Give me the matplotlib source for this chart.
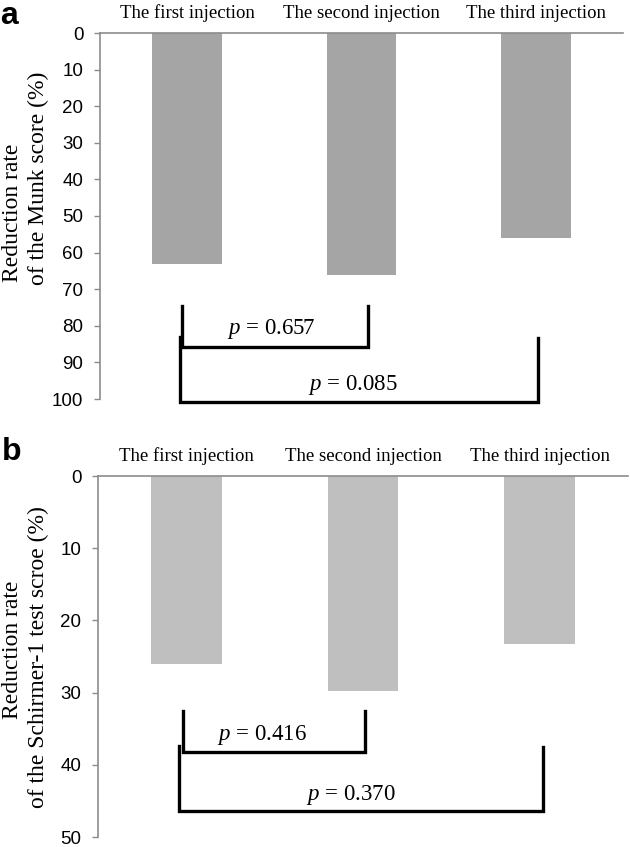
import matplotlib
matplotlib.use("Agg")
import matplotlib.pyplot as plt

plt.rcParams["mathtext.fontset"] = "custom"
plt.rcParams["mathtext.it"] = "Liberation Serif:italic"
plt.rcParams["mathtext.rm"] = "Liberation Serif"

categories = ["The first injection", "The second injection", "The third injection"]
munk_reduction = [63.0, 66.0, 56.0]
schirmer_reduction = [26.1, 29.8, 23.3]
munk_pvalues = ["0.657", "0.085"]
schirmer_pvalues = ["0.416", "0.370"]

SERIF = "Liberation Serif"
SANS = "Liberation Sans"
SPINE = "#8c8c8c"


def bracket(ax, x0, x1, top0, top1, bottom):
    ax.plot([x0, x0, x1, x1], [top0, bottom, bottom, top1], color="black",
            lw=2.4, solid_joinstyle="miter", clip_on=False, zorder=3)


def draw_panel(ax, values, color, ymax, yticks, brackets, pvalues, text_pos):
    x = range(len(categories))
    ax.bar(x, values, width=0.4, color=color, zorder=2)
    ax.set_xlim(-0.5, len(categories) - 0.5)
    ax.set_ylim(ymax, 0)
    ax.set_yticks(yticks)
    ax.set_xticks(list(x))
    ax.set_xticklabels(categories, family=SERIF, fontsize=13.5)
    ax.xaxis.tick_top()
    ax.tick_params(axis="x", length=0, pad=8)
    ax.tick_params(axis="y", length=4, width=1, color=SPINE, pad=8,
                   labelsize=13.5)
    for lab in ax.get_yticklabels():
        lab.set_family(SANS)
    for side in ["right", "bottom"]:
        ax.spines[side].set_visible(False)
    for side in ["left", "top"]:
        ax.spines[side].set_color(SPINE)
        ax.spines[side].set_linewidth(1.2)
    for (x0, x1, t0, t1, b), p, (tx, ty) in zip(brackets, pvalues, text_pos):
        bracket(ax, x0, x1, t0, t1, b)
        ax.text(tx, ty, f"$p$ = {p}", family=SERIF, fontsize=16.5,
                ha="center", va="center", zorder=4)


fig = plt.figure(figsize=(6.3, 8.47), dpi=100)

ax_a = fig.add_axes([100 / 630, 1 - 399 / 847, 523 / 630, 366 / 847])
draw_panel(ax_a, munk_reduction, "#a5a5a5", 100, range(0, 101, 10),
           [(-0.03, 1.04, 74.6, 74.6, 85.8), (-0.04, 2.01, 83.0, 83.3, 100.8)],
           munk_pvalues, [(0.48, 81.0), (0.95, 96.2)])

ax_b = fig.add_axes([98 / 630, 1 - 837 / 847, 530 / 630, 361 / 847])
draw_panel(ax_b, schirmer_reduction, "#bfbfbf", 50, range(0, 51, 10),
           [(-0.02, 1.01, 32.6, 32.6, 38.2), (-0.04, 2.02, 37.4, 37.5, 46.4)],
           schirmer_pvalues, [(0.43, 35.9), (0.93, 44.2)])

# y labels, two lines each
fig.text(12 / 630, 1 - 213 / 847, "Reduction rate", rotation=90, family=SERIF,
         fontsize=17, ha="center", va="center")
fig.text(38 / 630, 1 - 178 / 847, "of the Munk score (%)", rotation=90,
         family=SERIF, fontsize=17, ha="center", va="center")
fig.text(12 / 630, 1 - 650 / 847, "Reduction rate", rotation=90, family=SERIF,
         fontsize=17, ha="center", va="center")
fig.text(38 / 630, 1 - 657 / 847, "of the Schirmer-1 test scroe (%)",
         rotation=90, family=SERIF, fontsize=17, ha="center", va="center")

fig.text(0 / 630, 1 - 1 / 847, "a", family=SANS, fontsize=23,
         fontweight="bold", ha="left", va="top")
fig.text(2 / 630, 1 - 437 / 847, "b", family=SANS, fontsize=23,
         fontweight="bold", ha="left", va="top")

fig.savefig("out.png", dpi=100)
